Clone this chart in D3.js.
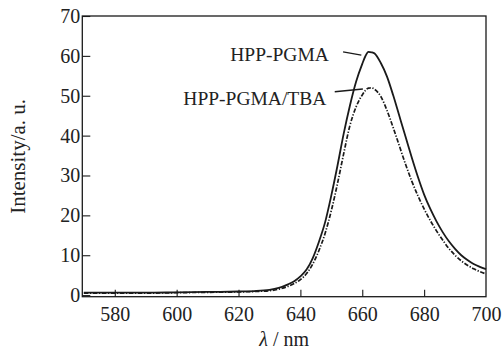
<!DOCTYPE html>
<html>
<head>
<meta charset="utf-8">
<script src="https://cdn.jsdelivr.net/npm/d3@7"></script>
<style>
    body { margin: 0; background: #fff; }
    svg text { font-family: "Liberation Serif", "DejaVu Serif", serif; fill: #222; }
</style>
</head>
<body>
<div id="chart"></div>
<script>
const wavelengths = [570, 580, 590, 600, 610, 620, 625, 630, 633, 636, 638, 640, 642, 644, 646, 648, 650, 652, 654, 656, 658, 660, 661, 662, 663, 664, 666, 668, 670, 672, 674, 676, 678, 680, 682, 684, 686, 688, 690, 692, 694, 696, 698, 700];
const hppPgma = [0.6, 0.6, 0.6, 0.7, 0.8, 0.9, 1.0, 1.3, 1.8, 2.7, 3.5, 4.7, 6.4, 9.3, 13.4, 18.3, 25.0, 32.5, 40.5, 47.5, 53.5, 58.0, 59.9, 61.0, 60.9, 60.6, 58.2, 54.8, 50.1, 44.9, 39.7, 34.5, 29.6, 25.2, 21.6, 18.5, 15.8, 13.5, 11.6, 10.0, 8.8, 7.8, 7.1, 6.5];
const hppPgmaTba = [0.5, 0.5, 0.5, 0.6, 0.7, 0.8, 0.9, 1.1, 1.5, 2.2, 2.9, 3.9, 5.4, 7.8, 11.2, 15.5, 21.2, 28.0, 35.5, 42.5, 47.2, 50.2, 51.3, 51.9, 52.0, 51.6, 49.8, 46.3, 42.0, 37.4, 32.8, 28.6, 24.9, 21.6, 18.7, 16.1, 13.8, 11.7, 10.0, 8.6, 7.5, 6.6, 5.9, 5.3];
const xTicks = [580, 600, 620, 640, 660, 680, 700];
const yTicks = [0, 10, 20, 30, 40, 50, 60, 70];

// label text end, leader start, leader end (in data units)
const annotations = [
    { text: "HPP-PGMA", at: [649.2, 58.8], from: [653.8, 61.0], to: [659.7, 60.2] },
    { text: "HPP-PGMA/TBA", at: [648.4, 47.7], from: [651.1, 51.0], to: [660.2, 51.7] }
];

const size = { width: 504, height: 351 };
const margin = { top: 16, right: 18, bottom: 54.3, left: 82.3 };
const innerW = size.width - margin.left - margin.right;
const innerH = size.height - margin.top - margin.bottom;

const svg = d3.select("#chart")
    .append("svg")
    .attr("width", size.width)
    .attr("height", size.height);

const g = svg.append("g")
    .attr("transform", "translate(" + margin.left + "," + margin.top + ")");

const xScale = d3.scaleLinear()
    .domain([569.5, 700])
    .range([0, innerW]);

const yScale = d3.scaleLinear()
    .domain([-0.4, 70])
    .range([innerH, 0]);

const ink = "#1a1a1a";

g.append("rect")
    .attr("width", innerW)
    .attr("height", innerH)
    .attr("fill", "none")
    .attr("stroke", ink)
    .attr("stroke-width", 1.3);

const xAxis = d3.axisBottom(xScale)
    .tickValues(xTicks)
    .tickSizeInner(-7)
    .tickSizeOuter(0)
    .tickPadding(10);

const yAxis = d3.axisLeft(yScale)
    .tickValues(yTicks)
    .tickSizeInner(-8)
    .tickSizeOuter(0)
    .tickPadding(2);

const gx = g.append("g")
    .attr("transform", "translate(0," + innerH + ")")
    .call(xAxis);

const gy = g.append("g")
    .call(yAxis);

[gx, gy].forEach(a => {
    a.select(".domain").remove();
    a.selectAll(".tick line").attr("stroke", ink).attr("stroke-width", 1.1);
    a.selectAll(".tick text")
        .attr("fill", "#222")
        .style("font-size", "20px")
        .style("font-family", "'Liberation Serif', serif");
});
gx.selectAll(".tick line").filter(d => d === 700).remove();
gx.selectAll(".tick text").attr("y", 10).attr("dy", "0.71em");

const line = d3.line()
    .x((d, i) => xScale(wavelengths[i]))
    .y(d => yScale(d))
    .curve(d3.curveMonotoneX);

g.append("path")
    .datum(hppPgmaTba)
    .attr("fill", "none")
    .attr("stroke", ink)
    .attr("stroke-width", 1.7)
    .attr("stroke-dasharray", "4.5,1.6,1.3,1.6")
    .attr("d", line);

g.append("path")
    .datum(hppPgma)
    .attr("fill", "none")
    .attr("stroke", ink)
    .attr("stroke-width", 1.8)
    .attr("d", line);

annotations.forEach(a => {
    g.append("line")
        .attr("x1", xScale(a.from[0]))
        .attr("y1", yScale(a.from[1]))
        .attr("x2", xScale(a.to[0]))
        .attr("y2", yScale(a.to[1]))
        .attr("stroke", ink)
        .attr("stroke-width", 1.4);
    g.append("text")
        .attr("x", xScale(a.at[0]))
        .attr("y", yScale(a.at[1]))
        .attr("text-anchor", "end")
        .style("font-size", "19.5px")
        .text(a.text);
});

g.append("text")
    .attr("x", innerW / 2)
    .attr("y", innerH + 49)
    .attr("text-anchor", "middle")
    .style("font-size", "20px")
    .html("<tspan font-style='italic'>λ</tspan> / nm");

g.append("text")
    .attr("transform", "translate(" + (25 - margin.left) + "," + (innerH / 2) + ") rotate(-90)")
    .attr("text-anchor", "middle")
    .style("font-size", "21px")
    .text("Intensity/a. u.");
</script>
</body>
</html>
